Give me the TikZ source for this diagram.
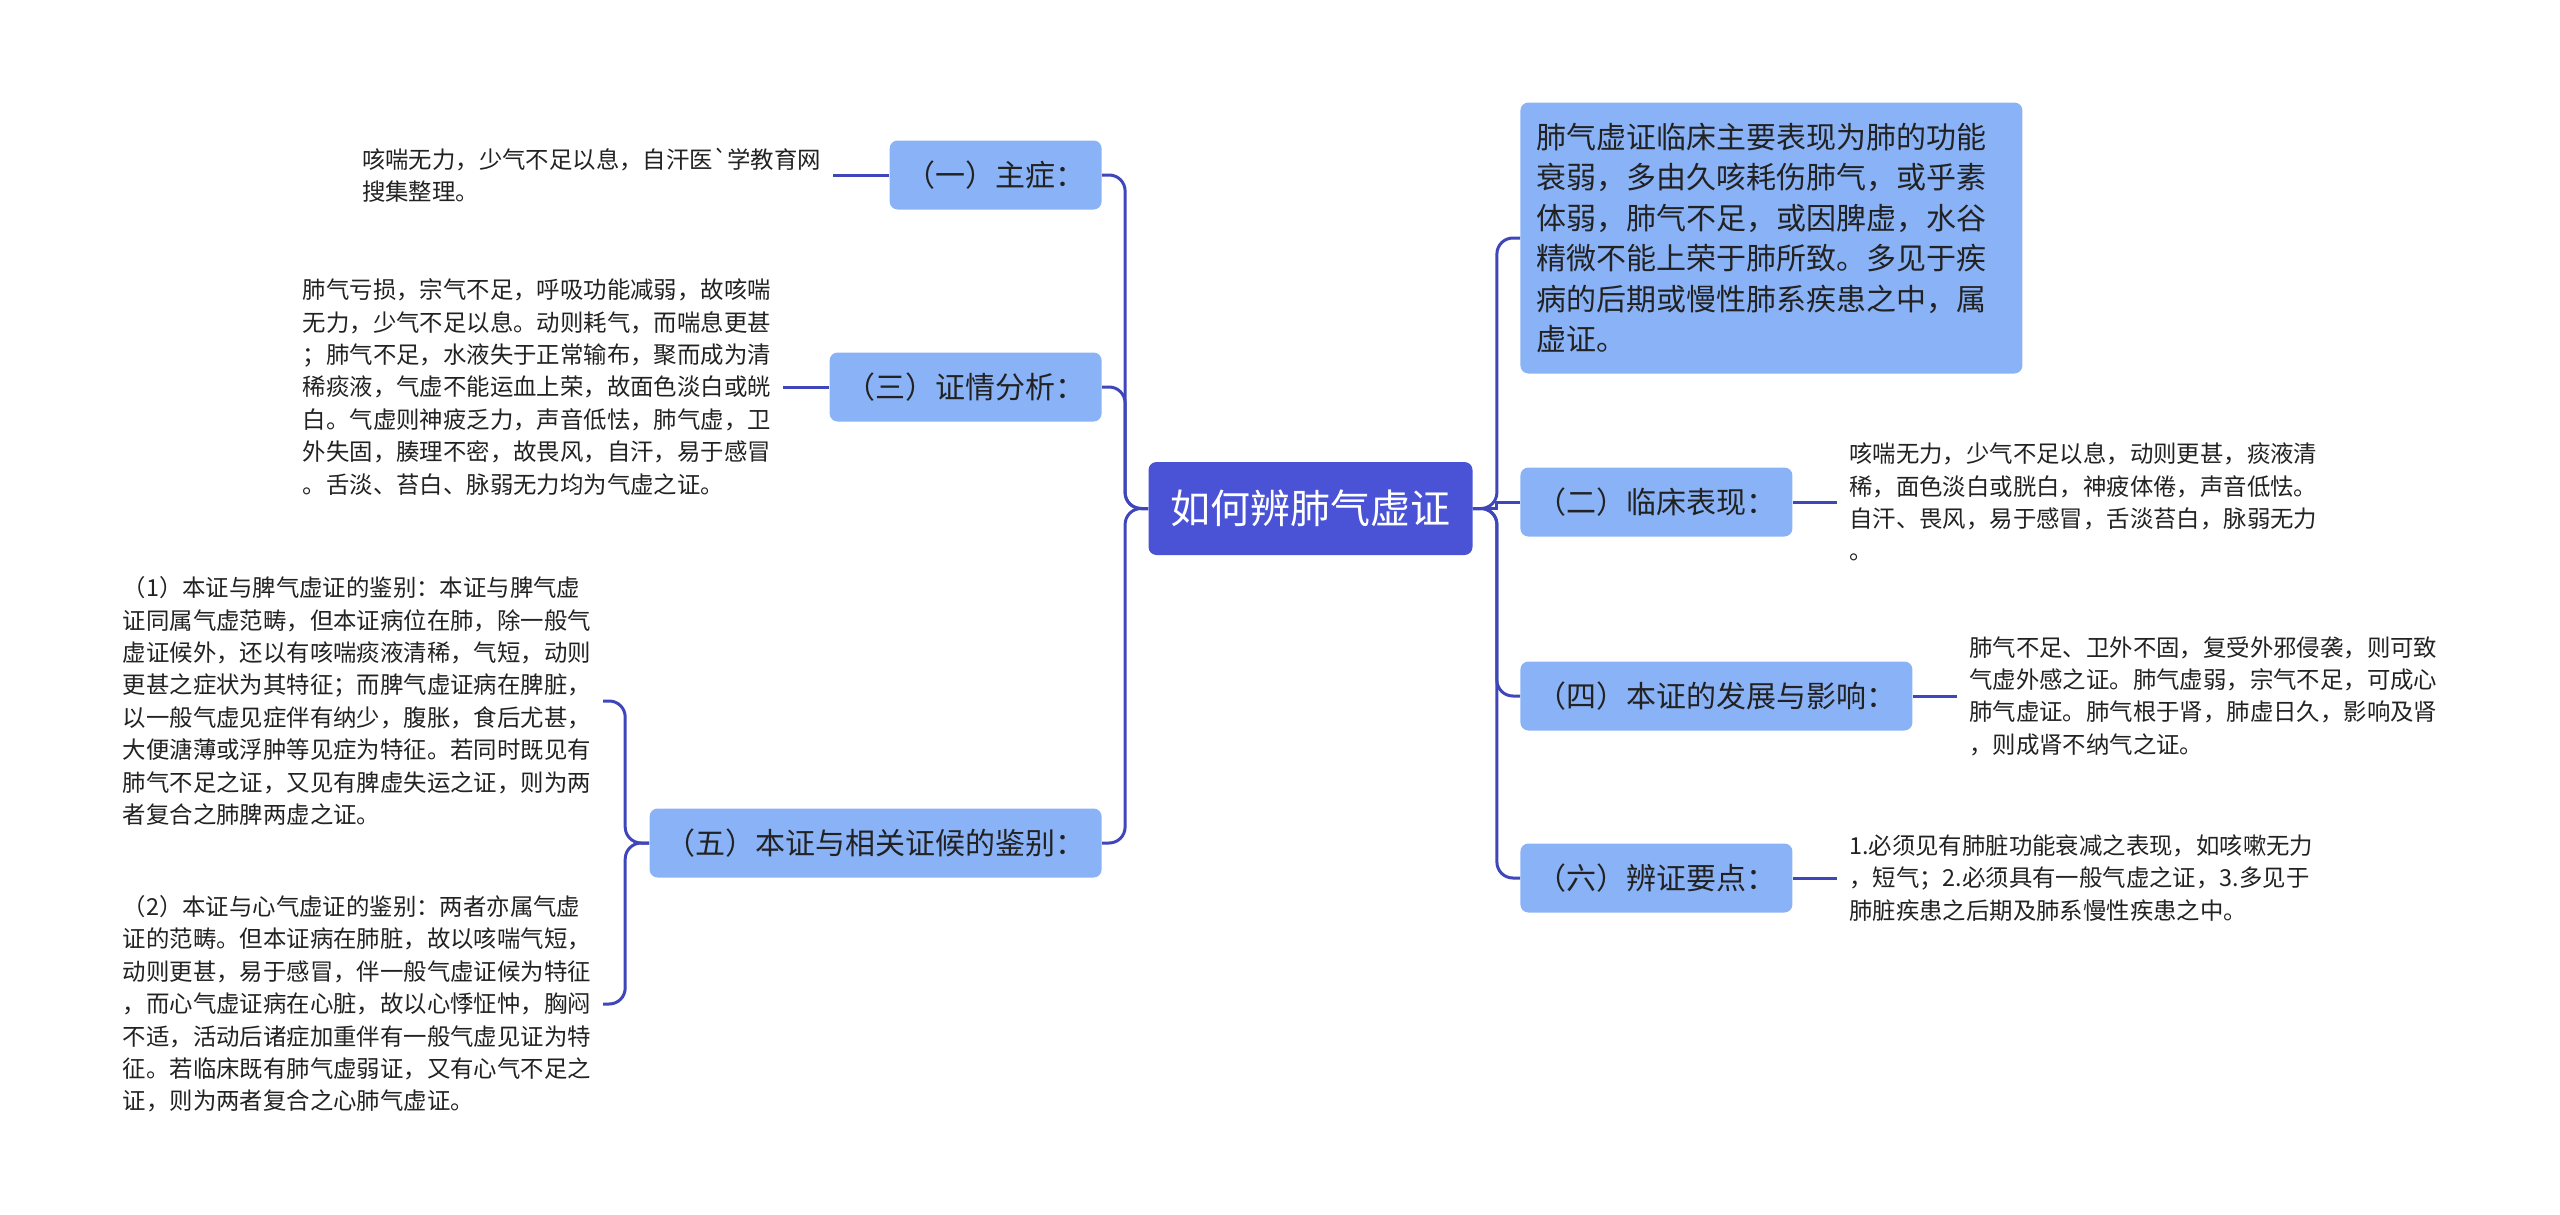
\documentclass[tikz,border=0pt]{standalone}
\usepackage{fontspec}
\setmainfont{Noto Sans CJK SC}
\newfontfamily\rawfont{Noto Sans CJK SC}[Ligatures=TeXOff]
\usepackage{tikz}
\usetikzlibrary{positioning}
\definecolor{rootblue}{RGB}{74,83,214}
\definecolor{boxblue}{RGB}{138,178,247}
\definecolor{linkblue}{RGB}{62,70,186}
\definecolor{inkgray}{RGB}{34,34,34}
\tikzset{
    rootnode/.style={fill=rootblue, text=white, rounded corners=4pt,
        font=\fontsize{20pt}{24pt}\selectfont, inner xsep=11pt, minimum height=46.5pt},
    topic/.style={fill=boxblue, text=inkgray, rounded corners=4pt,
        font=\fontsize{15pt}{20.25pt}\selectfont, inner xsep=8pt, minimum height=34.5pt},
    leaf/.style={text=inkgray, align=left, inner xsep=6pt, inner ysep=0pt,
        font=\fontsize{11.7pt}{16.2pt}\selectfont},
    link/.style={draw=linkblue, line width=1.5pt, rounded corners=8pt},
}

\begin{document}
\begin{tikzpicture}[x=0.5pt, y=-0.5pt]
\useasboundingbox (0,0) rectangle (2560,1215);
% centre
\node[rootnode] (root) at (1310.5,508.5) {如何辨肺气虚证};
% right side
\node[topic, anchor=west, align=left, text width=235pt, minimum height=135.5pt] (r1) at (1520,238) {肺气虚证临床主要表现为肺的功能\\
衰弱，多由久咳耗伤肺气，或乎素\\
体弱，肺气不足，或因脾虚，水谷\\
精微不能上荣于肺所致。多见于疾\\
病的后期或慢性肺系疾患之中，属\\
虚证。};
\node[topic, anchor=west] (r2) at (1520,502) {（二）临床表现：};
\node[topic, anchor=west] (r4) at (1520,696) {（四）本证的发展与影响：};
\node[topic, anchor=west] (r6) at (1520,878) {（六）辨证要点：};
\node[leaf, right=22pt of r2] (l2) {咳喘无力，少气不足以息，动则更甚，痰液清\\
稀，面色淡白或胱白，神疲体倦，声音低怯。\\
自汗、畏风，易于感冒，舌淡苔白，脉弱无力\\
。};
\node[leaf, right=22pt of r4] (l4) {肺气不足、卫外不固，复受外邪侵袭，则可致\\
气虚外感之证。肺气虚弱，宗气不足，可成心\\
肺气虚证。肺气根于肾，肺虚日久，影响及肾\\
，则成肾不纳气之证。};
\node[leaf, right=22pt of r6] (l6) {1.必须见有肺脏功能衰减之表现，如咳嗽无力\\
，短气；2.必须具有一般气虚之证，3.多见于\\
肺脏疾患之后期及肺系慢性疾患之中。};
% left side
\node[topic, anchor=east] (b1) at (1102,175) {（一）主症：};
\node[topic, anchor=east] (b3) at (1102,387) {（三）证情分析：};
\node[topic, anchor=east] (b5) at (1102,843) {（五）本证与相关证候的鉴别：};
\node[leaf, left=28pt of b1] (l1) {咳喘无力，少气不足以息，自汗医{\rawfont `}学教育网\\
搜集整理。};
\node[leaf, left=23pt of b3] (l3) {肺气亏损，宗气不足，呼吸功能减弱，故咳喘\\
无力，少气不足以息。动则耗气，而喘息更甚\\
；肺气不足，水液失于正常输布，聚而成为清\\
稀痰液，气虚不能运血上荣，故面色淡白或㿠\\
白。气虚则神疲乏力，声音低怯，肺气虚，卫\\
外失固，腠理不密，故畏风，自汗，易于感冒\\
。舌淡、苔白、脉弱无力均为气虚之证。};
\node[leaf, left=23pt of b5, yshift=71pt] (l5a) {（1）本证与脾气虚证的鉴别：本证与脾气虚\\
证同属气虚范畴，但本证病位在肺，除一般气\\
虚证候外，还以有咳喘痰液清稀，气短，动则\\
更甚之症状为其特征；而脾气虚证病在脾脏，\\
以一般气虚见症伴有纳少，腹胀，食后尤甚，\\
大便溏薄或浮肿等见症为特征。若同时既见有\\
肺气不足之证，又见有脾虚失运之证，则为两\\
者复合之肺脾两虚之证。};
\node[leaf, left=23pt of b5, yshift=-80.5pt] (l5b) {（2）本证与心气虚证的鉴别：两者亦属气虚\\
证的范畴。但本证病在肺脏，故以咳喘气短，\\
动则更甚，易于感冒，伴一般气虚证候为特征\\
，而心气虚证病在心脏，故以心悸怔忡，胸闷\\
不适，活动后诸症加重伴有一般气虚见证为特\\
征。若临床既有肺气虚弱证，又有心气不足之\\
证，则为两者复合之心肺气虚证。};
% connectors
\draw[link] (root.east) -- ++(24,0) |- (r1.west);
\draw[link, sharp corners] (root.east) -- ++(24,0) |- (r2.west);
\draw[link] (root.east) -- ++(24,0) |- (r4.west);
\draw[link] (root.east) -- ++(24,0) |- (r6.west);
\draw[link] (root.west) -- ++(-23,0) |- (b1.east);
\draw[link] (root.west) -- ++(-23,0) |- (b3.east);
\draw[link] (root.west) -- ++(-23,0) |- (b5.east);
\draw[link] (r2.east) -- (l2.west);
\draw[link] (r4.east) -- (l4.west);
\draw[link] (r6.east) -- (l6.west);
\draw[link] (b1.west) -- (l1.east);
\draw[link] (b3.west) -- (l3.east);
\draw[link] (b5.west) -- ++(-24,0) |- (l5a.east);
\draw[link] (b5.west) -- ++(-24,0) |- (l5b.east);
\end{tikzpicture}
\end{document}
